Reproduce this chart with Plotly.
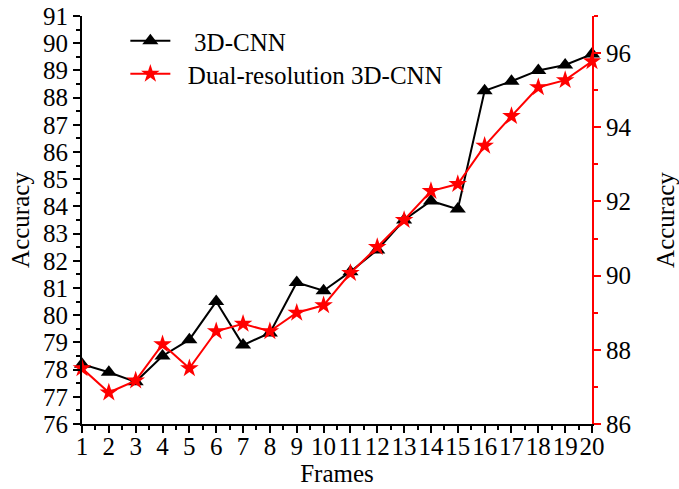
import plotly.graph_objects as go

frames = list(range(1, 21))
cnn_3d = [78.2, 77.9, 77.55, 78.5, 79.1, 80.5, 78.9, 79.35, 81.2, 80.9,
          81.6, 82.4, 83.5, 84.2, 83.9, 88.25, 88.6, 89.0, 89.2, 89.6]
dual_res = [87.5, 86.85, 87.17, 88.15, 87.5, 88.5, 88.7, 88.5, 89.0, 89.2,
            90.07, 90.77, 91.5, 92.28, 92.47, 93.5, 94.3, 95.08, 95.27, 95.78]
x_ticks = list(range(1, 21))
left_ticks = list(range(76, 92))
right_ticks = list(range(86, 97, 2))

FONT = "Liberation Serif"
FS = 25

fig = go.Figure()
fig.add_trace(go.Scatter(
    x=frames, y=cnn_3d, name="\u00a0\u00a0\u00a03D-CNN", mode="lines+markers",
    line=dict(color="black", width=2),
    marker=dict(symbol="triangle-up", size=14, color="black"),
    yaxis="y", cliponaxis=False, legend="legend"))
fig.add_trace(go.Scatter(
    x=frames, y=dual_res, name="\u00a0\u00a0Dual-resolution 3D-CNN", mode="lines+markers",
    line=dict(color="red", width=2),
    marker=dict(symbol="star", size=14, color="red"),
    yaxis="y2", cliponaxis=False, legend="legend2"))

leg_common = dict(xanchor="left", yanchor="top", bgcolor="rgba(0,0,0,0)",
                  font=dict(family=FONT, size=FS), itemwidth=40)

fig.update_layout(
    width=679, height=489,
    margin=dict(l=82, r=87, t=16, b=65),
    plot_bgcolor="white", paper_bgcolor="white",
    font=dict(family=FONT, size=FS, color="black"),
    showlegend=True,
    legend=dict(x=0.085, y=0.995, **leg_common),
    legend2=dict(x=0.085, y=0.914, **leg_common),
    xaxis=dict(
        range=[1, 20], tickmode="array", tickvals=x_ticks,
        ticktext=[str(v) for v in x_ticks], tickangle=0, automargin=False,
        ticklabelstandoff=-8,
        showgrid=False, zeroline=False, showline=True, linecolor="black",
        linewidth=2, ticks="outside", ticklen=7, tickwidth=2, tickcolor="black",
        tickfont=dict(family=FONT, size=FS),
        minor=dict(ticks="outside", dtick=0.5, tick0=1, ticklen=4, tickwidth=2, tickcolor="black"),
        title=dict(text="Frames", font=dict(family=FONT, size=FS), standoff=2),
    ),
    yaxis=dict(
        range=[76, 91], tickmode="array", tickvals=left_ticks, automargin=False,
        showgrid=False, zeroline=False, showline=True, linecolor="black",
        linewidth=2, ticks="outside", ticklen=7, tickwidth=2, tickcolor="black",
        tickfont=dict(family=FONT, size=FS),
        minor=dict(ticks="outside", dtick=0.5, tick0=76, ticklen=4, tickwidth=2, tickcolor="black"),
        title=dict(text="Accuracy", font=dict(family=FONT, size=FS), standoff=6),
    ),
    yaxis2=dict(
        range=[86, 97], overlaying="y", side="right", tickmode="array",
        tickvals=right_ticks, automargin=False,
        showgrid=False, zeroline=False, showline=True, linecolor="red",
        linewidth=2, ticks="outside", ticklen=7, tickwidth=2, tickcolor="red",
        tickfont=dict(family=FONT, size=FS, color="black"),
        minor=dict(ticks="outside", dtick=1, tick0=86, ticklen=4, tickwidth=2, tickcolor="red"),
        title=dict(text="Accuracy", font=dict(family=FONT, size=FS), standoff=26),
    ),
)

fig.write_html("out.html")
